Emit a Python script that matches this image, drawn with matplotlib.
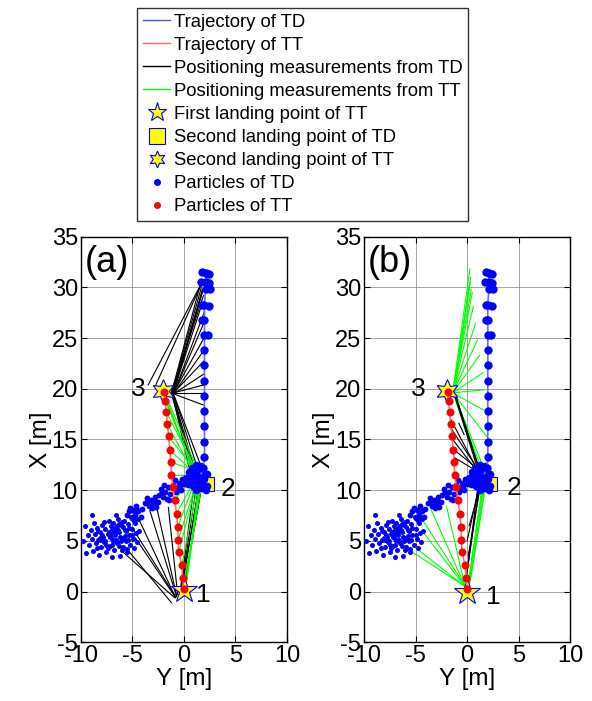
import numpy as np
import matplotlib
matplotlib.use('Agg')
import matplotlib.pyplot as plt
from matplotlib.lines import Line2D

plt.rcParams['font.family'] = ['Liberation Sans', 'DejaVu Sans']
plt.rcParams['axes.unicode_minus'] = False

# ---- trajectory of TD (blue) ----
td_x = [2.1, 2.1, 2.1, 2.0, 2.0, 2.0, 2.0, 2.0, 2.0, 2.0, 2.0, 2.0, 2.0, 2.0, 1.9, 1.5]
td_y = [31.4, 30.5, 29.8, 28.3, 26.8, 25.3, 23.8, 22.3, 20.8, 19.3, 17.8, 16.3, 14.8, 13.3, 12.2, 11.2]
# extra particles forming the wide blobs at the top of TD's trajectory
td_blob_x = [1.8, 2.4, 1.7, 2.4, 2.5, 1.8, 2.4, 1.8, 2.3]
td_blob_y = [31.5, 31.3, 30.5, 30.4, 29.8, 28.3, 28.2, 26.8, 25.3]

# ---- trajectory of TT (red) ----
tt_x = [0.0, -0.1, -0.2, -0.5, -0.55, -0.6, -0.7, -0.9, -1.05, -1.2, -1.26, -1.36, -1.46, -1.6, -1.7, -1.8, -1.9]
tt_y = [0.3, 1.3, 2.6, 3.9, 5.1, 6.4, 7.7, 9.0, 10.3, 11.5, 12.8, 14.0, 15.3, 16.5, 17.7, 18.8, 19.7]

# ---- TD particles after the second landing ----
land_x = [0.2, 0.4, 0.5, 0.7, 0.8, 0.9, 1.0, 1.1, 1.2, 1.3, 1.4, 1.5, 1.6, 1.7, 1.8, 1.9, 2.0, 2.1,
          2.2, 1.2, 0.6, 1.5, 1.0, 1.8, 1.4, 0.9, 1.6, 2.2, 1.9, 0.3, 1.1, 1.7]
land_y = [11.2, 10.6, 11.8, 11.0, 12.2, 10.4, 11.5, 10.8, 12.5, 11.2, 10.2, 11.8, 10.7, 11.4, 12.0, 10.5,
          11.1, 10.0, 11.6, 10.0, 11.4, 12.3, 12.0, 10.2, 11.0, 11.3, 11.2, 10.4, 11.7, 10.8, 11.9, 12.4]
trail_x = [-1.1, -0.9, -0.7, -0.5, -0.3, -0.2, -0.8, -0.4, 0.0,
           -2.4, -2.2, -2.0, -1.8, -1.6, -1.5, -1.3, -1.9, -2.1, -1.4,
           -3.8, -3.6, -3.4, -3.2, -3.0, -2.8, -2.7, -2.5, -3.5, -3.1, -2.9,
           -5.5, -5.2, -5.0, -4.9, -4.7, -4.6, -4.4, -4.2, -4.1, -5.3, -4.8, -4.5]
trail_y = [10.5, 11.0, 10.2, 10.7, 10.0, 11.1, 9.8, 10.4, 10.6,
           9.5, 10.1, 9.3, 9.8, 9.1, 10.3, 9.6, 10.5, 9.8, 9.0,
           8.7, 9.2, 8.4, 9.0, 8.6, 9.3, 8.3, 8.8, 8.9, 8.2, 9.0,
           7.6, 8.2, 7.3, 8.0, 7.6, 8.4, 7.9, 7.4, 8.1, 7.9, 7.1, 8.0]
cloud_x = [-9.8, -9.6, -9.5, -9.3, -9.2, -9.0, -8.9, -8.8, -8.7, -8.6, -8.5, -8.4, -8.3, -8.2, -8.1,
           -8.0, -7.9, -7.8, -7.7, -7.6, -7.5, -7.4, -7.3, -7.2, -7.1, -7.0, -6.9, -6.8, -6.7, -6.6,
           -6.5, -6.4, -6.3, -6.2, -6.1, -6.0, -5.9, -5.8, -5.7, -5.6, -5.5, -5.4, -5.3, -5.2, -5.1,
           -5.0, -4.9, -4.8, -4.7, -4.6, -4.5, -4.4, -4.3, -8.9, -7.0, -6.6, -5.5, -7.7, -6.9, -6.2,
           -5.9, -7.3, -6.4, -6.0, -8.1, -7.6, -5.3, -6.8, -7.0, -6.3, -5.7, -7.4, -6.6, -5.0, -8.4,
           -7.2, -6.7, -6.1, -5.6, -7.9, -8.3, -6.5, -5.8, -7.1, -6.9, -7.5, -6.0, -5.4, -8.0, -6.3]
cloud_y = [5.0, 6.5, 3.8, 5.6, 4.6, 6.1, 5.2, 4.0, 6.8, 5.7, 4.8, 6.3, 5.1, 3.6, 5.9,
           4.4, 6.6, 5.4, 4.9, 6.2, 3.9, 5.7, 7.0, 4.5, 6.0, 5.2, 6.8, 4.1, 5.6, 6.4,
           4.8, 7.2, 5.9, 3.5, 6.6, 5.3, 4.4, 7.0, 6.1, 5.0, 3.9, 6.7, 5.6, 4.6, 7.4,
           6.2, 5.2, 4.3, 6.8, 5.8, 4.9, 7.2, 6.0, 7.6, 3.4, 7.6, 4.2, 6.9, 5.0, 5.4,
           6.4, 5.9, 6.1, 4.1, 5.3, 5.0, 6.3, 6.2, 4.6, 6.7, 5.5, 4.3, 5.1, 5.6, 4.3,
           5.4, 5.9, 5.0, 6.0, 5.6, 6.0, 6.5, 5.3, 6.5, 5.7, 4.6, 6.9, 5.1, 5.1, 4.5]

# ---- landing points and their labels ----
first_tt = [(0.0, 0.2), (0.0, 0.0)]
second_td = [(2.2, 10.6), (2.2, 10.6)]
second_tt = [(-2.05, 19.8), (-1.95, 19.8)]
num_pos = [{'1': (1.9, -0.3), '2': (4.3, 10.1), '3': (-4.4, 20.0)},
           {'1': (2.5, -0.5), '2': (4.5, 10.2), '3': (-4.7, 20.0)}]

# ---- positioning measurements, (x0, y0, x1, y1) ----
a_black = [
    (-1.2, 19.6, 1.6, 30.3), (-1.2, 19.5, 1.7, 30.0), (-1.1, 19.6, 1.8, 29.6), (-1.2, 19.7, 1.9, 29.2),
    (-1.1, 19.5, 1.8, 29.8), (-1.0, 19.6, 1.9, 29.9), (-1.1, 19.4, 1.8, 28.5), (-1.0, 19.5, 2.0, 27.6),
    (-1.0, 19.5, 1.9, 26.4), (-1.0, 19.6, 2.0, 25.1), (-1.0, 19.5, 2.0, 23.9), (-1.0, 19.6, 2.0, 22.8),
    (-1.0, 19.5, 2.0, 21.5), (-1.0, 19.6, 2.0, 20.4), (-1.0, 19.5, 1.9, 18.4), (-1.0, 19.6, 1.9, 19.6),
    (-3.45, 20.4, 1.55, 30.1), (-2.8, 20.2, 1.6, 30.1),
    (-1.1, 19.4, 0.6, 11.8), (-1.0, 19.3, 0.9, 11.5), (-1.2, 19.5, 1.2, 11.0), (-1.0, 19.5, 1.5, 11.6),
    (-1.1, 19.6, 1.0, 12.2), (-0.9, 19.2, 1.8, 12.0),
    (-0.9, -0.6, -5.9, 3.9), (-1.2, -1.1, -5.6, 4.3), (-0.8, -0.5, -5.0, 6.3), (-0.8, -0.6, -4.7, 5.3),
    (-0.8, -0.6, -4.3, 7.0), (-0.7, -0.5, -3.3, 8.0), (-0.7, -0.4, -2.7, 8.6), (-0.6, -0.3, -1.5, 8.3),
    (-0.3, 0.0, 1.2, 10.3), (-0.2, 0.3, 1.5, 10.6), (0.0, 0.5, 1.7, 10.2), (-0.4, -0.3, 1.0, 10.5),
    (0.1, 1.0, 1.8, 10.8), (-0.3, -0.2, 1.4, 10.0)]
a_green = [
    (-0.5, 3.9, 1.3, 10.9), (-0.55, 5.1, 1.3, 11.0), (-0.6, 6.4, 1.2, 11.2), (-0.7, 7.7, 1.2, 11.3),
    (-0.9, 9.0, 1.0, 11.5), (-0.2, 2.6, 1.4, 10.8),
    (-1.9, 19.3, 1.0, 11.8), (-1.8, 18.8, 1.1, 11.9), (-1.7, 17.7, 1.2, 12.0), (-1.6, 16.5, 1.0, 11.6),
    (-1.5, 15.3, 1.3, 11.7), (-1.4, 14.0, 1.2, 11.5), (-1.3, 12.8, 1.4, 11.8), (-1.2, 11.5, 1.0, 11.4),
    (-1.7, 19.2, 0.8, 12.0), (-1.6, 19.0, 1.3, 12.1),
    (0.2, 0.5, 1.6, 10.5), (0.3, 1.2, 1.4, 10.3), (0.0, 0.8, 1.8, 10.8), (0.1, 0.3, 1.5, 10.2)]
b_green = [
    (-1.4, 19.6, 0.26, 31.8), (-1.4, 19.6, 0.5, 29.5), (-1.4, 19.6, 0.6, 28.1), (-1.4, 19.6, 0.8, 26.4),
    (-1.4, 19.6, 1.0, 24.8), (-1.4, 19.6, 1.2, 23.3), (-1.4, 19.6, 1.55, 21.6), (-1.4, 19.6, 1.6, 19.9),
    (-1.4, 19.6, 1.6, 17.9), (-1.4, 19.6, 1.9, 15.3), (-1.4, 19.6, 0.3, 30.5), (-1.4, 19.6, 0.35, 31.0),
    (-1.4, 19.6, 0.4, 29.8), (-1.3, 19.5, 0.2, 30.2),
    (-1.3, 19.4, 1.3, 11.5), (-1.2, 19.2, 1.5, 11.8), (-1.1, 19.0, 1.6, 12.2), (-1.2, 19.3, 1.2, 11.9),
    (-0.2, 0.5, -5.9, 4.3), (-0.2, 0.5, -4.3, 5.9), (-0.2, 0.5, -3.5, 8.1), (-0.2, 0.5, -2.0, 8.4),
    (-0.2, 0.5, -5.1, 4.4), (-0.1, 0.4, -4.6, 7.5),
    (0.1, 0.5, 1.4, 10.0), (0.2, 0.8, 1.6, 10.3), (0.3, 1.0, 1.8, 10.5), (0.0, 0.3, 1.5, 10.1),
    (0.2, 0.6, 1.7, 10.2)]
b_black = [
    (-1.6, 17.0, 1.0, 12.0), (-1.5, 16.0, 1.2, 11.8), (-1.4, 15.0, 1.1, 11.7), (-1.3, 14.0, 1.3, 11.9),
    (-1.2, 13.2, 0.9, 11.9), (-1.2, 19.3, 1.2, 11.5), (-1.1, 19.2, 1.3, 11.6), (-1.0, 19.0, 1.4, 11.4),
    (-0.8, 16.6, -0.3, 15.5),
    (-0.1, 1.2, 1.0, 10.0), (0.0, 2.0, 1.2, 10.3), (0.1, 3.5, 1.3, 10.5), (0.0, 5.0, 1.1, 10.2),
    (0.2, 6.5, 1.4, 10.8)]

meas = [[(a_black, 'k'), (a_green, '#00ff00')], [(b_green, '#00ff00'), (b_black, 'k')]]
panel_names = ['(a)', '(b)']

fig = plt.figure(figsize=(5.92, 7.01), dpi=100)
ax_a = fig.add_axes([80.7 / 592, 1 - 642.3 / 701, 206.3 / 592, 405.6 / 701])
ax_b = fig.add_axes([364.0 / 592, 1 - 642.3 / 701, 206.3 / 592, 405.6 / 701])

for i, ax in enumerate([ax_a, ax_b]):
    for segs, col in meas[i]:
        for x0, y0, x1, y1 in segs:
            ax.plot([x0, x1], [y0, y1], color=col, lw=0.8, zorder=2)

    ax.plot(first_tt[i][0], first_tt[i][1], marker='*', ms=20, mfc='yellow', mec='blue', mew=0.8, zorder=3)
    ax.plot(second_td[i][0], second_td[i][1], marker='s', ms=10, mfc='yellow', mec='blue', mew=0.8, zorder=3)
    ax.plot(second_tt[i][0], second_tt[i][1], marker=(6, 1, 0), ms=17, mfc='yellow', mec='blue', mew=0.8, zorder=3)

    ax.plot(cloud_x, cloud_y, 'o', color='blue', ms=3.6, mew=0, zorder=4)
    ax.plot(trail_x, trail_y, 'o', color='blue', ms=4.2, mew=0, zorder=4)
    ax.plot(land_x, land_y, 'o', color='blue', ms=5.5, mew=0, zorder=4)
    ax.plot(td_x, td_y, '-', color='#6a6aff', lw=1.2, zorder=4)
    ax.plot(td_x, td_y, 'o', color='blue', ms=6, mew=0, zorder=4)
    ax.plot(td_blob_x, td_blob_y, 'o', color='blue', ms=6, mew=0, zorder=4)
    ax.plot(tt_x, tt_y, '-', color='#ff7070', lw=1.2, zorder=5)
    ax.plot(tt_x, tt_y, 'o', color='red', ms=5.8, mew=0, zorder=5)

    for k, (tx, ty) in num_pos[i].items():
        ax.text(tx, ty, k, fontsize=19, ha='center', va='center')
    ax.text(-9.6, 32.5, panel_names[i], fontsize=26, ha='left', va='center')

    ax.set_xlim(-10, 10)
    ax.set_ylim(-5, 35)
    ax.set_xticks([-10, -5, 0, 5, 10])
    ax.set_yticks(range(-5, 36, 5))
    ax.grid(True, color='0.5', lw=0.5, ls='-')
    ax.set_axisbelow(True)
    ax.tick_params(direction='in', top=True, right=True, length=4, labelsize=17, pad=2)
    for s in ax.spines.values():
        s.set_linewidth(1.0)
    ax.set_xlabel('Y [m]', fontsize=17.5, labelpad=1)
    ax.set_ylabel('X [m]', fontsize=17.5, labelpad=0)

handles = [
    Line2D([], [], color='#4d4dff', lw=1),
    Line2D([], [], color='#ff6666', lw=1),
    Line2D([], [], color='black', lw=1),
    Line2D([], [], color='#00ff00', lw=1),
    Line2D([], [], ls='none', marker='*', ms=14, mfc='yellow', mec='blue', mew=0.8),
    Line2D([], [], ls='none', marker='s', ms=11, mfc='yellow', mec='blue', mew=0.8),
    Line2D([], [], ls='none', marker=(6, 1, 0), ms=12, mfc='yellow', mec='blue', mew=0.8),
    Line2D([], [], ls='none', marker='.', ms=8, color='blue'),
    Line2D([], [], ls='none', marker='.', ms=8, color='red'),
]
labels = ['Trajectory of TD', 'Trajectory of TT', 'Positioning measurements from TD',
          'Positioning measurements from TT', 'First landing point of TT', 'Second landing point of TD',
          'Second landing point of TT', 'Particles of TD', 'Particles of TT']
leg = fig.legend(handles, labels, loc='upper center', bbox_to_anchor=(0.5115, 0.9886),
                 fontsize=13.3, frameon=True, fancybox=False, edgecolor='black',
                 handlelength=1.5, handletextpad=0.2, labelspacing=0.33, borderpad=0.3,
                 borderaxespad=0)
leg.get_frame().set_linewidth(1.0)

fig.savefig('out.png', dpi=100)
